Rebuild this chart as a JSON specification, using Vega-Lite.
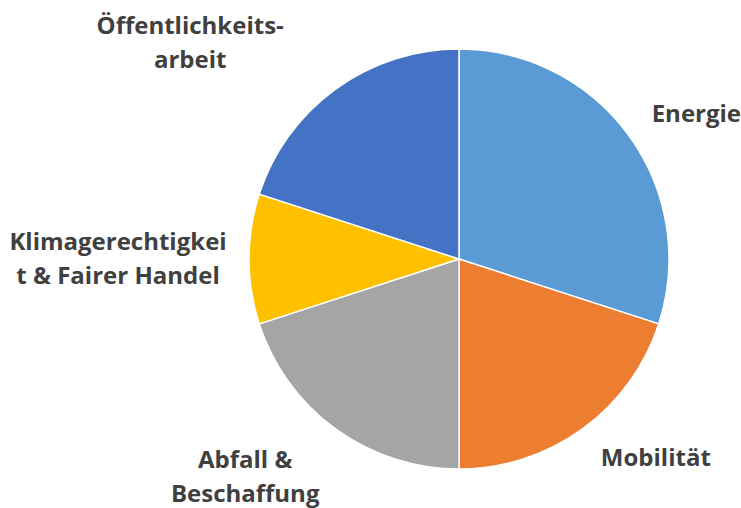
{
  "$schema": "https://vega.github.io/schema/vega-lite/v6.json",
  "autosize": {"type": "none"},
  "width": 420,
  "height": 420,
  "padding": {"left": 249, "top": 49, "right": 72, "bottom": 39},
  "background": "white",
  "config": {"view": {"stroke": null}, "text": {"lineBreak": "\n"}},
  "data": {
    "values": [
      {"cat": "Energie", "label": "Energie", "value": 30, "rank": 1},
      {"cat": "Mobilität", "label": "Mobilität", "value": 20, "rank": 2},
      {"cat": "Abfall & Beschaffung", "label": "Abfall &\nBeschaffung", "value": 20, "rank": 3},
      {"cat": "Klimagerechtigkeit & Fairer Handel", "label": "Klimagerechtigkei\nt & Fairer Handel", "value": 10, "rank": 4},
      {"cat": "Öffentlichkeitsarbeit", "label": "Öffentlichkeits-\narbeit", "value": 20, "rank": 5}
    ]
  },
  "encoding": {
    "theta": {"field": "value", "type": "quantitative", "stack": true},
    "order": {"field": "rank", "type": "quantitative"}
  },
  "layer": [
    {
      "mark": {"type": "arc", "radius": 210, "stroke": "white", "strokeWidth": 1.5},
      "encoding": {
        "color": {
          "field": "cat",
          "type": "nominal",
          "scale": {
            "domain": ["Energie", "Mobilität", "Abfall & Beschaffung", "Klimagerechtigkeit & Fairer Handel", "Öffentlichkeitsarbeit"],
            "range": ["#5B9BD5", "#ED7D31", "#A5A5A5", "#FFC000", "#4472C4"]
          },
          "legend": null
        }
      }
    },
    {
      "mark": {"type": "text", "radius": 260, "dx": 27, "dy": 9, "font": "Open Sans", "fontWeight": "bold", "fontSize": 24, "fill": "#404040", "align": "center", "baseline": "middle", "lineHeight": 34},
      "encoding": {"text": {"condition": {"test": "datum.cat === 'Energie'", "field": "label"}, "value": ""}}
    },
    {
      "mark": {"type": "text", "radius": 260, "dx": 44, "dy": -10, "font": "Open Sans", "fontWeight": "bold", "fontSize": 24, "fill": "#404040", "align": "center", "baseline": "middle", "lineHeight": 34},
      "encoding": {"text": {"condition": {"test": "datum.cat === 'Mobilität'", "field": "label"}, "value": ""}}
    },
    {
      "mark": {"type": "text", "radius": 260, "dx": -61, "dy": -8, "font": "Open Sans", "fontWeight": "bold", "fontSize": 24, "fill": "#404040", "align": "center", "baseline": "middle", "lineHeight": 34},
      "encoding": {"text": {"condition": {"test": "datum.cat === 'Abfall & Beschaffung'", "field": "label"}, "value": ""}}
    },
    {
      "mark": {"type": "text", "radius": 260, "dx": -81, "dy": -16, "font": "Open Sans", "fontWeight": "bold", "fontSize": 24, "fill": "#404040", "align": "center", "baseline": "middle", "lineHeight": 34},
      "encoding": {"text": {"condition": {"test": "datum.cat === 'Klimagerechtigkeit & Fairer Handel'", "field": "label"}, "value": ""}}
    },
    {
      "mark": {"type": "text", "radius": 260, "dx": -116, "dy": -22, "font": "Open Sans", "fontWeight": "bold", "fontSize": 24, "fill": "#404040", "align": "center", "baseline": "middle", "lineHeight": 34},
      "encoding": {"text": {"condition": {"test": "datum.cat === 'Öffentlichkeitsarbeit'", "field": "label"}, "value": ""}}
    }
  ]
}
